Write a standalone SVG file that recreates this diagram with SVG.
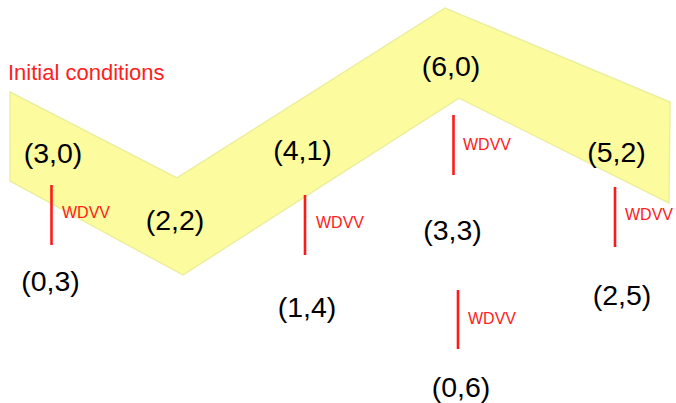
<svg xmlns="http://www.w3.org/2000/svg" width="676" height="403" viewBox="0 0 676 403">
<style>
.band{fill:#fcfc9e;stroke:#ecef9e;stroke-width:1.5}
.c{font-family:"Liberation Sans",Arial,sans-serif;font-size:28.5px;fill:#000;text-anchor:middle}
.w{font-family:"Liberation Sans",Arial,sans-serif;font-size:16px;fill:#ff2020}
.ic{font-family:"Liberation Sans",Arial,sans-serif;font-size:22px;fill:#ff2020}
.e{stroke:#ff1a1a;stroke-width:2.6}
</style>
<rect width="676" height="403" fill="#fff"/>
<g id="band"><polygon class="band" points="10,92 177,178 445,8 670,102 669,203 459,98 183,275 10,181"/></g>
<g id="initial"><text class="ic" x="8" y="80">Initial conditions</text></g>
<g id="connectors">
<line class="e" x1="51.5" y1="185" x2="51.5" y2="245"/><text class="w" x="62" y="218">WDVV</text>
<line class="e" x1="305" y1="195" x2="305" y2="255"/><text class="w" x="316" y="228">WDVV</text>
<line class="e" x1="453.5" y1="115" x2="453.5" y2="175"/><text class="w" x="463" y="150">WDVV</text>
<line class="e" x1="615" y1="187" x2="615" y2="247"/><text class="w" x="625" y="220">WDVV</text>
<line class="e" x1="458" y1="290" x2="458" y2="349"/><text class="w" x="468" y="324">WDVV</text>
</g>
<g id="n30"><text class="c" x="53" y="163">(3,0)</text></g>
<g id="n22"><text class="c" x="175" y="230">(2,2)</text></g>
<g id="n41"><text class="c" x="302.5" y="160">(4,1)</text></g>
<g id="n60"><text class="c" x="451" y="76">(6,0)</text></g>
<g id="n52"><text class="c" x="616.5" y="162">(5,2)</text></g>
<g id="n03"><text class="c" x="50.5" y="291">(0,3)</text></g>
<g id="n14"><text class="c" x="307" y="317">(1,4)</text></g>
<g id="n33"><text class="c" x="452.5" y="240">(3,3)</text></g>
<g id="n25"><text class="c" x="622" y="305">(2,5)</text></g>
<g id="n06"><text class="c" x="461" y="397">(0,6)</text></g>
</svg>
